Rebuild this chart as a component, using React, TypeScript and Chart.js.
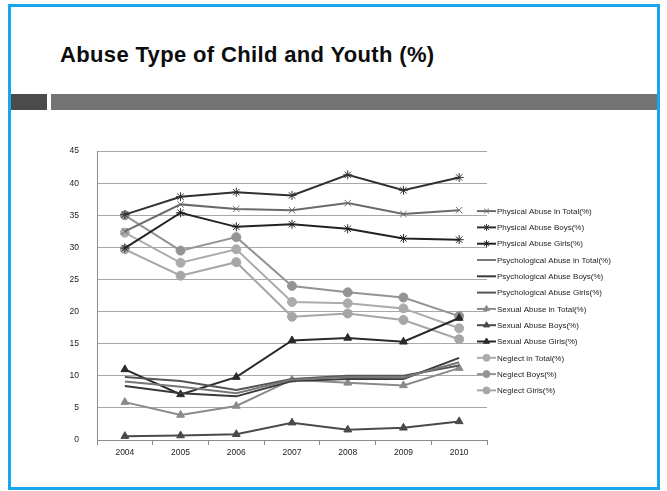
import React, { useEffect, useRef } from "react";
import { Chart, registerables } from "chart.js";
import { drawPoint } from "chart.js/helpers";

Chart.register(...registerables);

// Years on the x axis
const years = ["2004", "2005", "2006", "2007", "2008", "2009", "2010"];

// Physical abuse (%)
const physicalTotal = [32.5, 36.7, 36.0, 35.8, 36.9, 35.2, 35.8];
const physicalBoys = [35.1, 37.9, 38.6, 38.1, 41.3, 38.9, 40.9];
const physicalGirls = [29.9, 35.4, 33.2, 33.6, 32.9, 31.4, 31.2];

// Psychological abuse (%)
const psychTotal = [9.1, 8.3, 7.3, 9.4, 9.8, 9.7, 12.1];
const psychBoys = [8.4, 7.3, 6.8, 9.2, 9.5, 9.5, 12.8];
const psychGirls = [9.8, 9.2, 7.8, 9.5, 10.0, 10.0, 11.6];

// Sexual abuse (%)
const sexualTotal = [5.9, 3.9, 5.3, 9.4, 8.9, 8.5, 11.2];
const sexualBoys = [0.6, 0.7, 0.9, 2.7, 1.6, 1.9, 2.9];
const sexualGirls = [11.0, 7.1, 9.8, 15.5, 15.9, 15.3, 19.0];

// Neglect (%)
const neglectTotal = [32.3, 27.6, 29.7, 21.5, 21.3, 20.5, 17.4];
const neglectBoys = [35.0, 29.5, 31.6, 24.0, 23.0, 22.2, 19.3];
const neglectGirls = [29.7, 25.6, 27.7, 19.2, 19.7, 18.7, 15.7];

const yTicks = [0, 5, 10, 15, 20, 25, 30, 35, 40, 45];

const FONT = "'Liberation Sans', Arial, sans-serif";

type SeriesDef = {
  label: string;
  data: number[];
  color: string;
  marker: string | false;
  radius: number;
};

const series: SeriesDef[] = [
  { label: "Physical Abuse in Total(%)", data: physicalTotal, color: "#6a6a6a", marker: "crossRot", radius: 4.5 },
  { label: "Physical Abuse Boys(%)", data: physicalBoys, color: "#303030", marker: "star", radius: 4.5 },
  { label: "Physical Abuse Girls(%)", data: physicalGirls, color: "#222222", marker: "star", radius: 4.5 },
  { label: "Psychological Abuse in Total(%)", data: psychTotal, color: "#777777", marker: false, radius: 0 },
  { label: "Psychological Abuse Boys(%)", data: psychBoys, color: "#3a3a3a", marker: false, radius: 0 },
  { label: "Psychological Abuse Girls(%)", data: psychGirls, color: "#555555", marker: false, radius: 0 },
  { label: "Sexual Abuse in Total(%)", data: sexualTotal, color: "#8a8a8a", marker: "triangle", radius: 4.5 },
  { label: "Sexual Abuse Boys(%)", data: sexualBoys, color: "#4a4a4a", marker: "triangle", radius: 4.5 },
  { label: "Sexual Abuse Girls(%)", data: sexualGirls, color: "#2a2a2a", marker: "triangle", radius: 4.5 },
  { label: "Neglect in Total(%)", data: neglectTotal, color: "#ababab", marker: "circle", radius: 4.5 },
  { label: "Neglect Boys(%)", data: neglectBoys, color: "#949494", marker: "circle", radius: 4.5 },
  { label: "Neglect Girls(%)", data: neglectGirls, color: "#a6a6a6", marker: "circle", radius: 4.5 },
];

// Legend drawn on the canvas: a short line with the series marker, then its label
const sideLegend = {
  id: "sideLegend",
  afterDraw(chart: any) {
    const { ctx, chartArea } = chart;
    const x0 = chartArea.right - 10;
    const y0 = chartArea.top + 60;
    const step = 16.3;
    ctx.save();
    series.forEach((s, i) => {
      const y = y0 + i * step;
      ctx.strokeStyle = s.color;
      ctx.lineWidth = 2;
      ctx.beginPath();
      ctx.moveTo(x0, y);
      ctx.lineTo(x0 + 19, y);
      ctx.stroke();
      if (s.marker) {
        ctx.fillStyle = s.color;
        ctx.lineWidth = 1;
        drawPoint(ctx, { pointStyle: s.marker, radius: 3.5, rotation: 0, borderWidth: 1 }, x0 + 9.5, y);
      }
      ctx.fillStyle = "#222222";
      ctx.font = `8px ${FONT}`;
      ctx.textAlign = "left";
      ctx.textBaseline = "middle";
      ctx.fillText(s.label, x0 + 20, y + 0.5);
    });
    ctx.restore();
  },
};

function AbuseChart() {
  const ref = useRef<HTMLCanvasElement | null>(null);

  useEffect(() => {
    if (!ref.current) return;
    const chart = new Chart(ref.current, {
      type: "line",
      data: {
        labels: years,
        datasets: series.map((s) => ({
          label: s.label,
          data: s.data,
          borderColor: s.color,
          backgroundColor: s.color,
          borderWidth: 2,
          pointStyle: s.marker === false ? false : (s.marker as any),
          pointRadius: s.radius,
          pointBorderWidth: 1,
          pointBorderColor: s.color,
          pointBackgroundColor: s.color,
          tension: 0,
          fill: false,
        })),
      },
      options: {
        responsive: false,
        animation: false,
        devicePixelRatio: 1,
        layout: { padding: { top: 10, right: 173, left: 0, bottom: 0 } },
        plugins: {
          legend: { display: false },
          tooltip: { enabled: false },
        },
        scales: {
          x: {
            type: "category",
            offset: true,
            afterFit(scale: any) {
              scale.height = 30;
            },
            grid: {
              offset: true,
              drawOnChartArea: false,
              drawTicks: true,
              tickLength: 5,
              color: "#8c8c8c",
            },
            border: { display: true, color: "#8c8c8c", width: 1 },
            ticks: {
              color: "#222222",
              padding: 3,
              font: { family: FONT, size: 8.5 },
              maxRotation: 0,
            },
          },
          y: {
            min: yTicks[0],
            max: yTicks[yTicks.length - 1],
            afterFit(scale: any) {
              scale.width = 37;
            },
            afterBuildTicks(scale: any) {
              scale.ticks = yTicks.map((v) => ({ value: v }));
            },
            grid: {
              drawTicks: false,
              color: "#a8a8a8",
              lineWidth: 1,
            },
            border: { display: true, color: "#8c8c8c", width: 1 },
            ticks: {
              color: "#222222",
              padding: 18,
              font: { family: FONT, size: 8.5 },
            },
          },
        },
      },
      plugins: [sideLegend],
    });
    return () => chart.destroy();
  }, []);

  return (
    <canvas
      ref={ref}
      width={600}
      height={342}
      style={{ position: "absolute", left: 60, top: 128, width: 600, height: 342 }}
    />
  );
}

export default function App() {
  return (
    <div
      style={{
        position: "absolute",
        left: 0,
        top: 0,
        width: 667,
        height: 491,
        background: "#ffffff",
        overflow: "hidden",
      }}
    >
      <div
        style={{
          position: "absolute",
          left: 8,
          top: 4,
          width: 646,
          height: 480,
          border: "3px solid #1aa6ec",
        }}
      />
      <div
        style={{
          position: "absolute",
          left: 60,
          top: 40,
          fontFamily: FONT,
          fontWeight: "bold",
          fontSize: 22,
          letterSpacing: "0.35px",
          color: "#0d0d0d",
          whiteSpace: "nowrap",
          lineHeight: "30px",
        }}
      >
        Abuse Type of Child and Youth (%)
      </div>
      <div style={{ position: "absolute", left: 11, top: 94, width: 36, height: 16, background: "#4b4b4b" }} />
      <div style={{ position: "absolute", left: 51, top: 94, width: 606, height: 16, background: "#737373" }} />
      <AbuseChart />
    </div>
  );
}
